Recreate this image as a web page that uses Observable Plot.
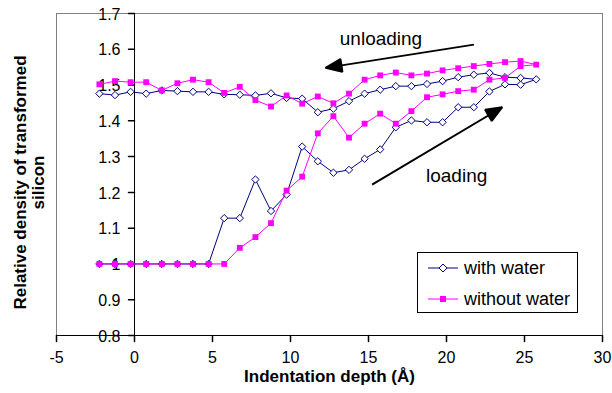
<!DOCTYPE html>
<html>
<head>
<meta charset="utf-8">
<script src="https://cdn.jsdelivr.net/npm/d3@7"></script>
<script src="https://cdn.jsdelivr.net/npm/@observablehq/plot@0.6"></script>
<style>
  html, body { margin: 0; padding: 0; background: #fff; }
  #wrap { position: relative; width: 612px; height: 393px; font-family: "Liberation Sans", Arial, sans-serif; }
  #legend { position: absolute; left: 417px; top: 252px; width: 161px; height: 61px; border: 1px solid #000; background: #fff; box-sizing: border-box; }
  .row { position: absolute; left: 0; height: 20px; display: flex; align-items: center; font-size: 18px; color: #000; }
  .row svg { margin-left: 10px; margin-right: 6px; }
</style>
</head>
<body>
<div id="wrap"></div>
<script>
// Indentation depth (Å) of each sample
const depth = [-2.25, -1.25, -0.25, 0.75, 1.75, 2.75, 3.75, 4.75, 5.75, 6.75, 7.75, 8.75, 9.75, 10.75, 11.75, 12.75, 13.75, 14.75, 15.75, 16.75, 17.75, 18.75, 19.75, 20.75, 21.75, 22.75, 23.75, 24.75, 25.75];

// with water: loading and unloading (both listed by ascending depth)
const withWaterLoad = [1.0, 1.0, 1.0, 1.0, 1.0, 1.0, 1.0, 1.0, 1.128, 1.128, 1.236, 1.148, 1.194, 1.328, 1.287, 1.255, 1.263, 1.294, 1.320, 1.382, 1.401, 1.396, 1.396, 1.438, 1.438, 1.482, 1.502, 1.501, 1.516];
const withWaterUnload = [1.476, 1.472, 1.481, 1.476, 1.485, 1.483, 1.481, 1.481, 1.474, 1.473, 1.471, 1.477, 1.464, 1.462, 1.424, 1.434, 1.455, 1.476, 1.487, 1.497, 1.497, 1.503, 1.511, 1.522, 1.529, 1.534, 1.522, 1.520, 1.516];

// without water: loading and unloading (both listed by ascending depth)
const withoutWaterLoad = [1.0, 1.0, 1.0, 1.0, 1.0, 1.0, 1.0, 1.0, 1.0, 1.045, 1.075, 1.114, 1.205, 1.244, 1.365, 1.413, 1.353, 1.392, 1.420, 1.392, 1.427, 1.466, 1.474, 1.483, 1.487, 1.515, 1.520, 1.553, 1.557];
const withoutWaterUnload = [1.502, 1.511, 1.508, 1.508, 1.485, 1.505, 1.515, 1.508, 1.478, 1.495, 1.458, 1.440, 1.471, 1.448, 1.468, 1.449, 1.476, 1.515, 1.527, 1.535, 1.527, 1.532, 1.541, 1.547, 1.553, 1.559, 1.564, 1.567, 1.557];

const seriesNames = ["with water", "without water"];
const xTicks = [-5, 0, 5, 10, 15, 20, 25, 30];
const xTickLabels = ["-5", "0", "5", "10", "15", "20", "25", "30"];
const yTicks = [0.8, 0.9, 1.0, 1.1, 1.2, 1.3, 1.4, 1.5, 1.6, 1.7];
const yTickLabels = ["0.8", "0.9", "1", "1.1", "1.2", "1.3", "1.4", "1.5", "1.6", "1.7"];

// annotations (data coordinates)
const annoText = ["unloading", "loading"];
const annoX = [15.8, 20.65];
const annoY = [1.630, 1.247];
const arrowX1 = [21.76, 15.23];
const arrowY1 = [1.613, 1.222];
const arrowX2 = [12.25, 23.57];
const arrowY2 = [1.548, 1.438];

const colors = {"with water": "#000080", "without water": "#FF00FF"};

// build path: loading ascending, then unloading descending
function pathRows(name, load, unload) {
  const rows = [];
  depth.forEach((d, i) => rows.push({series: name, x: d, y: load[i]}));
  for (let i = depth.length - 2; i >= 0; i--) rows.push({series: name, x: depth[i], y: unload[i]});
  return rows;
}
const rowsW = pathRows(seriesNames[0], withWaterLoad, withWaterUnload);
const rowsWo = pathRows(seriesNames[1], withoutWaterLoad, withoutWaterUnload);

const annos = annoText.map((t, i) => ({t, x: annoX[i], y: annoY[i]}));
const arrows = arrowX1.map((x1, i) => ({x1, y1: arrowY1[i], x2: arrowX2[i], y2: arrowY2[i]}));

const ns = "http://www.w3.org/2000/svg";
const tickShape = {draw(ctx, l) { ctx.moveTo(0, 0); ctx.lineTo(0, -l); }};

const chart = Plot.plot({
  width: 612,
  height: 393,
  marginLeft: 56,
  marginRight: 10,
  marginTop: 13,
  marginBottom: 58,
  style: {fontFamily: "'Liberation Sans', Arial, sans-serif", fontSize: "16px", background: "#fff", color: "#000", overflow: "visible"},
  x: {domain: [-5, 30], axis: null},
  y: {domain: [0.8, 1.7], axis: null},
  marks: [
    Plot.frame({stroke: "#808080"}),
    Plot.ruleX([0], {stroke: "#000"}),
    Plot.ruleY([0.8], {stroke: "#000"}),
    // y ticks at x = 0
    Plot.vector(yTicks, {x: () => 0, y: d => d, length: 6, rotate: 270, anchor: "start", shape: tickShape, stroke: "#000"}),
    Plot.text(yTicks, {x: () => 0, y: d => d, text: (d, i) => yTickLabels[i], dx: -14, dy: 1, textAnchor: "end", fontSize: 16}),
    // x ticks
    Plot.vector(xTicks, {x: d => d, y: () => 0.8, length: 6, rotate: 180, anchor: "start", shape: tickShape, stroke: "#000"}),
    Plot.text(xTicks, {x: d => d, y: () => 0.8, text: (d, i) => xTickLabels[i], dy: 22, fontSize: 16}),
    // axis titles
    Plot.text(["Indentation depth (Å)"], {frameAnchor: "bottom", dy: 46, fontWeight: "bold", fontSize: 17}),
    Plot.text(["Relative density of transformed\nsilicon"], {frameAnchor: "left", textAnchor: "middle", rotate: -90, dx: -27, dy: 8, fontWeight: "bold", fontSize: 17, lineHeight: 1.06}),
    // series
    Plot.line(rowsW, {x: "x", y: "y", stroke: colors["with water"], strokeWidth: 1}),
    Plot.dot(rowsW, {x: "x", y: "y", symbol: "diamond2", r: 3.3, stroke: colors["with water"], fill: "#fff", strokeWidth: 1}),
    Plot.line(rowsWo, {x: "x", y: "y", stroke: colors["without water"], strokeWidth: 1}),
    Plot.dot(rowsWo, {x: "x", y: "y", symbol: "square", r: 3.3, fill: colors["without water"], stroke: "none"}),
    // annotations
    Plot.text(annos, {x: "x", y: "y", text: "t", fontSize: 19}),
    Plot.link(arrows, {
      x1: "x1", y1: "y1", x2: "x2", y2: "y2", stroke: "#000", strokeWidth: 2,
      render(index, scales, values, dimensions, context, next) {
        const g = next(index, scales, values, dimensions, context);
        for (const i of index) {
          const x1 = values.x1[i], y1 = values.y1[i], x2 = values.x2[i], y2 = values.y2[i];
          const a = Math.atan2(y2 - y1, x2 - x1);
          const L = 16, W = 6.5;
          const bx = x2 - L * Math.cos(a), by = y2 - L * Math.sin(a);
          const pts = [[x2, y2], [bx - W * Math.sin(a), by + W * Math.cos(a)], [bx + W * Math.sin(a), by - W * Math.cos(a)]];
          const poly = document.createElementNS(ns, "polygon");
          poly.setAttribute("points", pts.map(p => p.join(",")).join(" "));
          poly.setAttribute("fill", "#000");
          g.appendChild(poly);
        }
        return g;
      }
    })
  ]
});

const wrap = document.getElementById("wrap");
wrap.appendChild(chart);

// legend
const legend = document.createElement("div");
legend.id = "legend";
const symW = `<svg width="30" height="12"><line x1="0" y1="6" x2="30" y2="6" stroke="${colors["with water"]}" stroke-width="1"/><path d="M15,2 L19,6 L15,10 L11,6 Z" fill="#fff" stroke="${colors["with water"]}"/></svg>`;
const symWo = `<svg width="30" height="12"><line x1="0" y1="6" x2="30" y2="6" stroke="${colors["without water"]}" stroke-width="1"/><rect x="12" y="3" width="6" height="6" fill="${colors["without water"]}"/></svg>`;
legend.innerHTML = `<div class="row" style="top:5px">${symW}<span>${seriesNames[0]}</span></div>` +
                   `<div class="row" style="top:36px">${symWo}<span>${seriesNames[1]}</span></div>`;
wrap.appendChild(legend);
</script>
</body>
</html>
